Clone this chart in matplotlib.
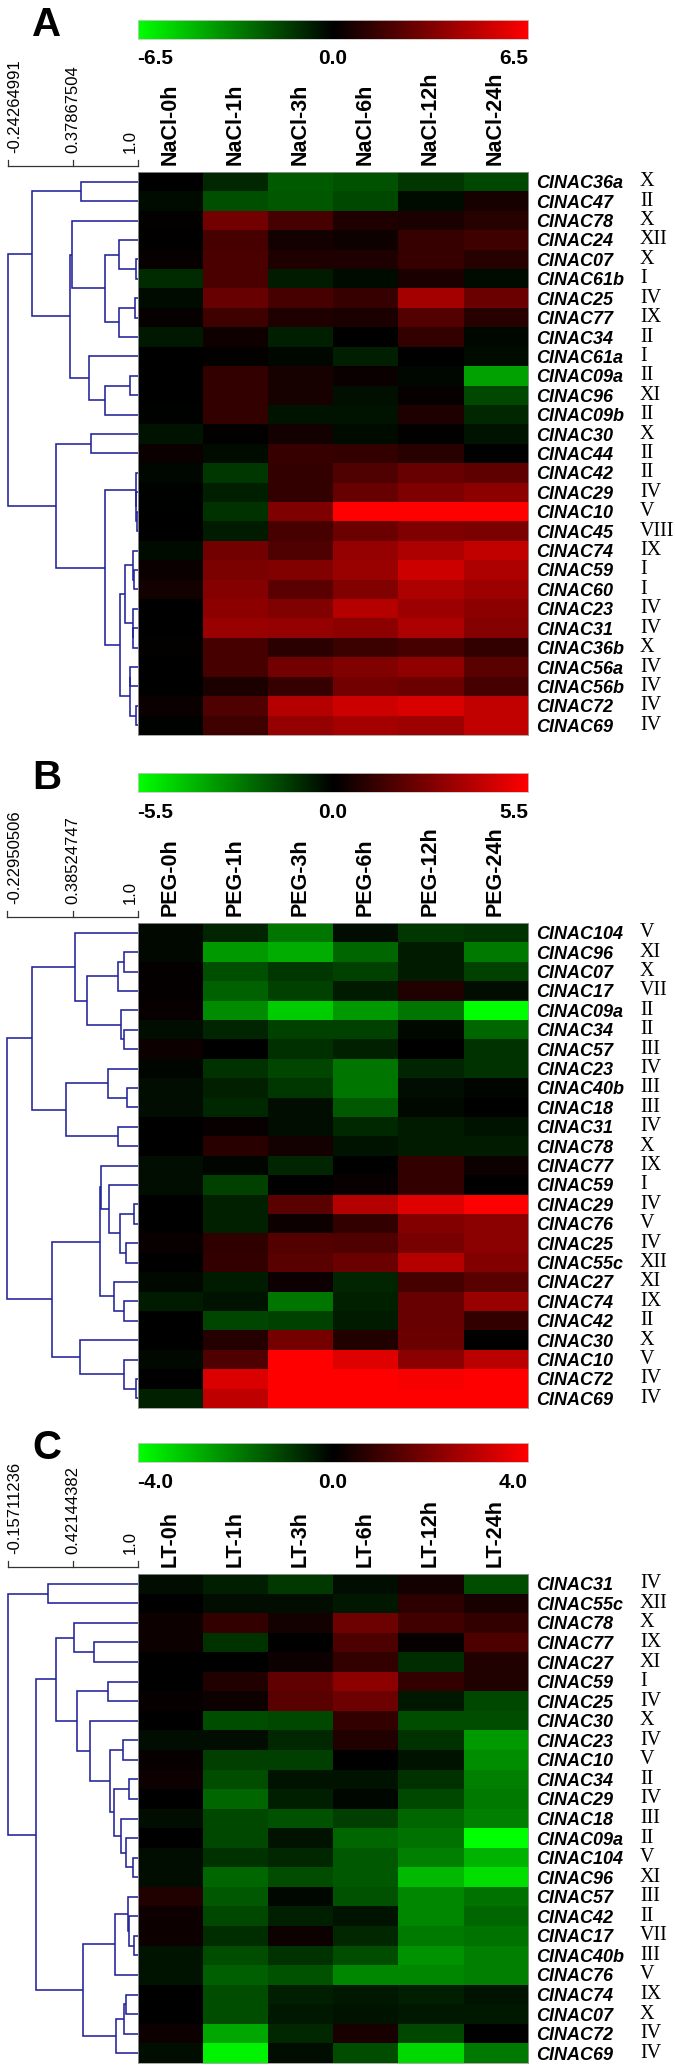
import numpy as np
import matplotlib
matplotlib.use("Agg")
import matplotlib.pyplot as plt
from matplotlib.colors import LinearSegmentedColormap
from matplotlib.transforms import blended_transform_factory

plt.rcParams['font.family'] = ['Liberation Sans', 'DejaVu Sans']

# ---------------------------------------------------------------- data
# ---- Panel A (NaCl)
cols_a = ["NaCl-0h", "NaCl-1h", "NaCl-3h", "NaCl-6h", "NaCl-12h", "NaCl-24h"]
genes_a = ["CINAC36a", "CINAC47", "CINAC78", "CINAC24", "CINAC07", "CINAC61b", "CINAC25",
           "CINAC77", "CINAC34", "CINAC61a", "CINAC09a", "CINAC96", "CINAC09b", "CINAC30",
           "CINAC44", "CINAC42", "CINAC29", "CINAC10", "CINAC45", "CINAC74", "CINAC59",
           "CINAC60", "CINAC23", "CINAC31", "CINAC36b", "CINAC56a", "CINAC56b", "CINAC72",
           "CINAC69"]
groups_a = ["X", "II", "X", "XII", "X", "I", "IV", "IX", "II", "I", "II", "XI", "II", "X",
            "II", "II", "IV", "V", "VIII", "IX", "I", "I", "IV", "IV", "X", "IV", "IV", "IV",
            "IV"]
vals_a = [
    [0.0, -1.0, -2.3, -2.1, -1.4, -1.8],
    [-0.3, -2.0, -2.2, -1.8, -0.3, 0.6],
    [0.1, 2.9, 1.8, 0.8, 0.7, 1.0],
    [0.0, 1.8, 0.5, 0.4, 1.4, 1.6],
    [0.2, 1.9, 0.8, 0.8, 1.4, 1.0],
    [-1.1, 1.9, -0.7, -0.3, 0.7, -0.3],
    [-0.3, 2.6, 1.8, 1.4, 4.2, 2.7],
    [0.2, 1.6, 0.8, 0.7, 2.1, 1.0],
    [-0.6, 0.4, -0.8, 0.0, 1.3, -0.2],
    [0.0, 0.1, -0.2, -0.8, 0.0, -0.3],
    [0.0, 1.3, 0.6, 0.3, -0.2, -4.1],
    [0.0, 1.3, 0.6, -0.4, 0.2, -1.8],
    [-0.1, 1.3, -0.5, -0.5, 0.8, -1.0],
    [-0.5, 0.1, 0.5, -0.3, 0.1, -0.5],
    [0.3, -0.3, 1.4, 1.3, 1.0, 0.0],
    [-0.2, -1.4, 1.3, 2.0, 2.6, 2.4],
    [-0.1, -0.8, 1.3, 2.6, 3.2, 3.6],
    [0.0, -1.3, 3.2, 6.5, 6.5, 6.5],
    [0.0, -0.7, 1.8, 2.7, 3.2, 3.1],
    [-0.3, 2.9, 2.0, 3.8, 4.4, 4.9],
    [0.3, 3.1, 3.3, 3.9, 5.2, 4.4],
    [0.5, 3.4, 2.3, 3.3, 4.4, 4.0],
    [0.0, 3.6, 3.3, 4.6, 4.0, 3.6],
    [0.0, 3.9, 3.8, 3.6, 4.4, 3.4],
    [0.1, 1.8, 1.1, 1.5, 1.8, 1.3],
    [0.0, 1.8, 2.9, 3.3, 3.7, 2.3],
    [0.0, 0.7, 1.4, 2.9, 2.7, 1.8],
    [0.3, 2.0, 4.6, 5.2, 5.5, 4.9],
    [-0.1, 1.6, 3.8, 4.2, 4.0, 4.9],
]
vmax_a = 6.5
cbar_labels_a = ["-6.5", "0.0", "6.5"]
scale_labels_a = ["-0.24264991", "0.37867504", "1.0"]
scale_min_a = -0.24264991
# tree: [left, right, similarity]; leaves are row indices
tree_a = [[[0, 1, 0.4626],
           [[2, [[3, [4, 5, 0.9872], 0.8208], [[6, 7, 0.9744], 8, 0.8208], 0.6865], 0.3763],
            [9, [[10, 11, 0.9328], 12, 0.6865], 0.5362], 0.3507], -0.0107],
          [[13, 14, 0.5586],
           [[15, [16, [17, 18, 0.9968], 0.9900], 0.9872],
            [[[19, [20, 21, 0.9648], 0.9552], [22, [23, 24, 0.9600], 0.9552], 0.8848],
             [[25, 26, 0.9328], [27, 28, 0.9872], 0.9264], 0.8304], 0.6865], 0.2228],
          -0.24264991]

# ---- Panel B (PEG)
cols_b = ["PEG-0h", "PEG-1h", "PEG-3h", "PEG-6h", "PEG-12h", "PEG-24h"]
genes_b = ["CINAC104", "CINAC96", "CINAC07", "CINAC17", "CINAC09a", "CINAC34", "CINAC57",
           "CINAC23", "CINAC40b", "CINAC18", "CINAC31", "CINAC78", "CINAC77", "CINAC59",
           "CINAC29", "CINAC76", "CINAC25", "CINAC55c", "CINAC27", "CINAC74", "CINAC42",
           "CINAC30", "CINAC10", "CINAC72", "CINAC69"]
groups_b = ["V", "XI", "X", "VII", "II", "II", "III", "IV", "III", "III", "IV", "X", "IX",
            "I", "IV", "V", "IV", "XII", "XI", "IX", "II", "X", "V", "IV", "IV"]
vals_b = [
    [-0.2, -0.8, -2.5, -0.3, -1.2, -1.1],
    [-0.2, -3.3, -3.7, -2.2, -0.6, -2.6],
    [0.1, -1.7, -1.2, -1.4, -0.6, -1.4],
    [0.1, -2.1, -1.4, -0.6, 0.7, -0.3],
    [0.2, -3.0, -4.4, -3.3, -2.5, -5.5],
    [-0.3, -0.8, -1.4, -1.4, -0.2, -2.2],
    [0.3, 0.0, -1.0, -0.7, 0.0, -1.1],
    [-0.1, -1.1, -1.5, -2.5, -0.8, -1.1],
    [-0.3, -0.7, -1.2, -2.5, -0.3, -0.1],
    [-0.3, -0.9, -0.3, -1.9, -0.2, 0.0],
    [0.0, 0.2, -0.3, -0.9, -0.6, -0.4],
    [0.0, 0.9, 0.4, -0.4, -0.6, -0.6],
    [-0.3, -0.1, -0.8, 0.0, 1.1, 0.3],
    [-0.3, -1.4, 0.0, 0.2, 1.1, 0.0],
    [0.0, -0.7, 1.9, 3.9, 4.8, 5.5],
    [0.0, -0.7, 0.3, 1.1, 2.8, 3.0],
    [0.2, 1.0, 1.8, 1.7, 2.6, 3.0],
    [0.0, 1.1, 1.9, 2.3, 3.9, 2.8],
    [-0.2, -0.6, 0.3, -0.8, 1.5, 1.9],
    [-0.6, -0.4, -2.5, -0.7, 2.2, 3.3],
    [0.0, -1.5, -1.4, -0.6, 2.2, 1.1],
    [0.0, 0.8, 2.5, 0.7, 2.3, 0.0],
    [-0.2, 1.7, 5.5, 4.8, 3.0, 4.0],
    [0.0, 4.7, 5.5, 5.5, 5.3, 5.5],
    [-0.7, 4.1, 5.5, 5.5, 5.5, 5.5],
]
vmax_b = 5.5
cbar_labels_b = ["-5.5", "0.0", "5.5"]
scale_labels_b = ["-0.22950506", "0.38524747", "1.0"]
scale_min_b = -0.22950506
tree_b = [[[0, [[[1, 2, 0.8766], 3, 0.8165], [4, [5, 6, 0.8766], 0.8449], 0.5221], 0.4114],
           [[7, [8, 9, 0.9019], 0.7183], [10, 11, 0.8165], 0.3259], 0.0063],
          [[[12, [13, [[14, 15, 0.9652], [16, 17, 0.8924], 0.8386], 0.7278], 0.6582],
            [18, [19, 20, 0.8766], 0.7816], 0.6487],
           [21, [22, [23, 24, 0.9874], 0.8702], 0.4588], 0.1899],
          -0.22950506]

# ---- Panel C (LT)
cols_c = ["LT-0h", "LT-1h", "LT-3h", "LT-6h", "LT-12h", "LT-24h"]
genes_c = ["CINAC31", "CINAC55c", "CINAC78", "CINAC77", "CINAC27", "CINAC59", "CINAC25",
           "CINAC30", "CINAC23", "CINAC10", "CINAC34", "CINAC29", "CINAC18", "CINAC09a",
           "CINAC104", "CINAC96", "CINAC57", "CINAC42", "CINAC17", "CINAC40b", "CINAC76",
           "CINAC74", "CINAC07", "CINAC72", "CINAC69"]
groups_c = ["IV", "XII", "X", "IX", "XI", "I", "IV", "X", "IV", "V", "II", "IV", "III", "II",
            "V", "XI", "III", "II", "VII", "III", "V", "IX", "X", "IV", "IV"]
vals_c = [
    [-0.2, -0.5, -0.9, -0.2, 0.3, -1.2],
    [0.0, -0.2, -0.2, -0.4, 0.7, 0.4],
    [0.2, 0.8, 0.3, 1.7, 1.0, 0.8],
    [0.2, -0.8, 0.0, 1.2, 0.1, 1.2],
    [0.0, 0.0, 0.2, 0.8, -0.7, 0.5],
    [0.0, 0.5, 1.5, 2.2, 0.8, 0.5],
    [0.1, 0.2, 1.4, 1.7, -0.4, -1.1],
    [0.0, -1.2, -1.1, 0.8, -1.2, -1.2],
    [-0.2, -0.2, -0.6, 0.5, -0.8, -2.4],
    [0.1, -1.0, -1.0, 0.0, -0.3, -2.2],
    [0.2, -1.2, -0.3, -0.3, -0.8, -2.0],
    [0.0, -1.6, -0.5, -0.1, -1.1, -1.9],
    [-0.2, -1.1, -1.3, -1.0, -1.6, -2.0],
    [0.0, -1.1, -0.3, -1.6, -1.8, -4.0],
    [-0.2, -0.8, -0.6, -1.4, -2.0, -2.8],
    [-0.2, -1.6, -1.2, -1.4, -2.9, -3.5],
    [0.5, -1.4, -0.1, -1.3, -2.1, -1.8],
    [0.2, -1.1, -0.5, -0.3, -2.1, -1.6],
    [0.2, -0.7, 0.2, -0.6, -1.9, -1.8],
    [-0.3, -1.2, -0.8, -1.2, -2.3, -2.0],
    [-0.3, -1.5, -1.3, -2.1, -2.1, -2.0],
    [0.0, -1.2, -0.5, -0.4, -0.5, -0.3],
    [0.0, -1.2, -0.4, -0.3, -0.4, -0.4],
    [0.2, -2.6, -0.6, 0.4, -1.1, 0.0],
    [-0.2, -3.8, -0.2, -1.2, -3.4, -1.9],
]
vmax_c = 4.0
cbar_labels_c = ["-4.0", "0.0", "4.0"]
scale_labels_c = ["-0.15711236", "0.42144382", "1.0"]
scale_min_c = -0.15711236
tree_c = [[0, 1, 0.2018],
          [[[2, [3, 4, 0.6158], 0.4311],
            [[5, 6, 0.7379],
             [7, [[8, 9, 0.8689],
                  [[10, 11, 0.9225], [12, [13, [14, 15, 0.9613], 0.9017], 0.8541], 0.7885],
                  0.7588], 0.5801], 0.4639], 0.2763],
           [[[16, [17, [18, 19, 0.9732], 0.9225], 0.9136], 20, 0.7974],
            [[[21, 22, 0.9017], 23, 0.8779], 24, 0.8124], 0.5115], 0.0976],
          -0.15711236]

# ---------------------------------------------------------------- layout
W, H, DPI = 675, 2069, 100
fig = plt.figure(figsize=(W / DPI, H / DPI), dpi=DPI)
fig.patch.set_facecolor("white")

cmap = LinearSegmentedColormap.from_list("gbr", [(0, 1, 0), (0, 0, 0), (1, 0, 0)], N=256)
DEND_COLOR = "#22229a"

HX0, HX1 = 137.5, 528.0      # heatmap x range (px)
DX0 = 7.5                     # dendrogram root x (px)
ROMAN_X = 640.0


def add_ax(x0, y0, x1, y1):
    return fig.add_axes([x0 / W, 1 - y1 / H, (x1 - x0) / W, (y1 - y0) / H])


def draw_tree(ax, node):
    if isinstance(node, int):
        return float(node), 1.0
    ya, xa = draw_tree(ax, node[0])
    yb, xb = draw_tree(ax, node[1])
    h = node[2]
    ax.plot([xa, h, h, xb], [ya, ya, yb, yb], color=DEND_COLOR, lw=1.15,
            solid_capstyle="butt", solid_joinstyle="miter", clip_on=False)
    return (ya + yb) / 2.0, h


panels = [
    dict(letter="A", cols=cols_a, genes=genes_a, groups=groups_a, vals=vals_a, vmax=vmax_a,
         cbl=cbar_labels_a, sl=scale_labels_a, smin=scale_min_a, tree=tree_a,
         cb=(20, 39), cbly=58, bar=166, heat=(172, 735)),
    dict(letter="B", cols=cols_b, genes=genes_b, groups=groups_b, vals=vals_b, vmax=vmax_b,
         cbl=cbar_labels_b, sl=scale_labels_b, smin=scale_min_b, tree=tree_b,
         cb=(773, 792), cbly=812, bar=917, heat=(923, 1408)),
    dict(letter="C", cols=cols_c, genes=genes_c, groups=groups_c, vals=vals_c, vmax=vmax_c,
         cbl=cbar_labels_c, sl=scale_labels_c, smin=scale_min_c, tree=tree_c,
         cb=(1443, 1462), cbly=1482, bar=1567, heat=(1574, 2063)),
]

for p in panels:
    data = np.array(p["vals"], dtype=float)
    n = data.shape[0]
    hy0, hy1 = p["heat"]

    # heatmap
    ax = add_ax(HX0, hy0, HX1, hy1)
    ax.imshow(data, cmap=cmap, vmin=-p["vmax"], vmax=p["vmax"], aspect="auto",
              interpolation="nearest")
    ax.set_xticks(range(len(p["cols"])))
    ax.set_xticklabels(p["cols"], rotation=90, fontsize=15.5, fontweight="bold",
                       ha="center", va="bottom")
    ax.xaxis.tick_top()
    ax.tick_params(axis="x", length=0, pad=5)
    ax.set_yticks(range(n))
    ax.set_yticklabels(p["genes"], fontsize=13, fontweight="bold", fontstyle="italic")
    ax.yaxis.tick_right()
    ax.tick_params(axis="y", length=0, pad=6)
    for s in ax.spines.values():
        s.set_color("#9a9a9a")
        s.set_linewidth(0.6)
    tr = blended_transform_factory(fig.transFigure, ax.transData)
    for i, g in enumerate(p["groups"]):
        ax.text(ROMAN_X / W, i, g, transform=tr, fontsize=14.5,
                family=["Liberation Serif", "DejaVu Serif"], ha="left", va="center")

    # dendrogram
    dax = add_ax(DX0, hy0, HX0, hy1)
    dax.set_xlim(p["smin"], 1.0)
    dax.set_ylim(n - 0.5, -0.5)
    dax.axis("off")
    draw_tree(dax, p["tree"])

    # similarity scale bar
    bar = p["bar"]
    sax = add_ax(DX0, bar - 110, HX0, bar)
    sax.set_xlim(p["smin"], 1.0)
    sax.set_ylim(0, 110)
    sax.axis("off")
    mid = (p["smin"] + 1.0) / 2.0
    sax.plot([p["smin"], 1.0], [0, 0], color="#333333", lw=0.9, clip_on=False)
    for xv in (p["smin"], mid, 1.0):
        sax.plot([xv, xv], [0, 6], color="#333333", lw=0.9, clip_on=False)
    for xv, lab, ha in zip((p["smin"], mid, 1.0), p["sl"], ("left", "center", "right")):
        sax.text(xv, 13, lab, rotation=90, fontsize=12, ha=ha, va="bottom",
                 rotation_mode="default")

    # colour bar
    cy0, cy1 = p["cb"]
    cax = add_ax(HX0, cy0, HX1, cy1)
    grad = np.linspace(-p["vmax"], p["vmax"], 512)[None, :]
    cax.imshow(grad, cmap=cmap, vmin=-p["vmax"], vmax=p["vmax"], aspect="auto",
               interpolation="bilinear")
    cax.set_xticks([])
    cax.set_yticks([])
    for s in cax.spines.values():
        s.set_color("#c8c8c8")
        s.set_linewidth(0.6)
    ly = 1 - p["cbly"] / H
    fig.text(HX0 / W, ly, p["cbl"][0], fontsize=15, fontweight="bold", ha="left", va="center")
    fig.text((HX0 + HX1) / 2 / W, ly, p["cbl"][1], fontsize=15, fontweight="bold",
             ha="center", va="center")
    fig.text(HX1 / W, ly, p["cbl"][2], fontsize=15, fontweight="bold", ha="right", va="center")

    # panel letter
    fig.text(32 / W, 1 - (cy1 - 3) / H, p["letter"], fontsize=29, fontweight="bold",
             ha="left", va="baseline")

fig.savefig("out.png", dpi=DPI, facecolor="white")
